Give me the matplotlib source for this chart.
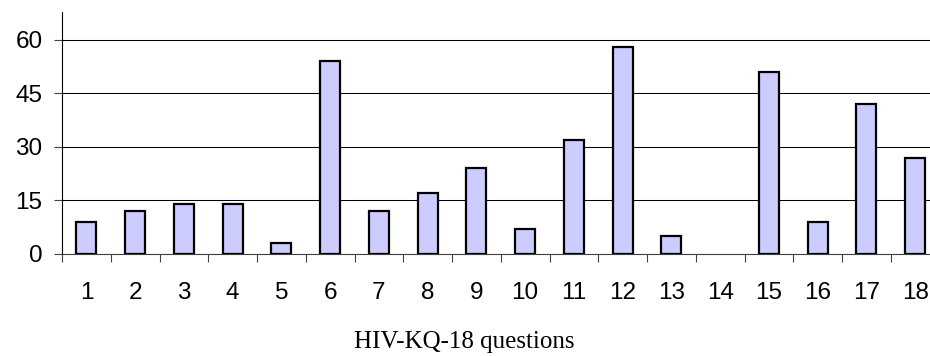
import numpy as np
import matplotlib
matplotlib.use("Agg")
import matplotlib.pyplot as plt

# number of wrong answers per HIV-KQ-18 item
questions = [str(i) for i in range(1, 19)]
counts = [9, 12, 14, 14, 3, 54, 12, 17, 24, 7, 32, 58, 5, 0, 51, 9, 42, 27]
y_ticks = [0, 15, 30, 45, 60]

W, H = 930, 356
fig = plt.figure(figsize=(W / 100, H / 100), dpi=100)
ax = fig.add_axes([62 / W, (H - 254) / H, (939.5 - 62) / W, (254 - 12) / H])

x = np.arange(len(questions))
# empty categories get no outline, so nothing shows on the baseline
edges = ["black" if c > 0 else "none" for c in counts]
ax.bar(x, counts, width=0.41, color="#CCCCFF", edgecolor=edges,
       linewidth=1.6, zorder=3)

ax.set_xlim(-0.5, len(questions) - 0.5)
ax.set_ylim(0, 67.85)

ax.set_yticks(y_ticks)
ax.set_yticklabels([str(v) for v in y_ticks])
for v in y_ticks[1:]:
    ax.axhline(v, color="black", linewidth=0.75, zorder=1)

ax.set_xticks(x)
ax.set_xticklabels(questions)
ax.set_xticks(np.arange(-0.5, len(questions)), minor=True)
ax.tick_params(axis="x", which="major", length=0, pad=20,
               labelsize=17.5, labelfontfamily="Liberation Sans")
ax.tick_params(axis="x", which="minor", length=6, width=0.8,
               direction="out", color="#404040")
ax.tick_params(axis="y", length=6, width=0.8, pad=8, color="#404040",
               labelsize=17.5, labelfontfamily="Liberation Sans")

for side in ["top", "right"]:
    ax.spines[side].set_visible(False)
ax.spines["left"].set_color("black")
ax.spines["left"].set_linewidth(0.8)
ax.spines["bottom"].set_color("#404040")
ax.spines["bottom"].set_linewidth(0.8)

fig.text(464.5 / W, 1 - 342 / H, "HIV-KQ-18 questions", ha="center",
         va="center", fontsize=18, family="Liberation Serif")

fig.savefig("out.png", dpi=100)
